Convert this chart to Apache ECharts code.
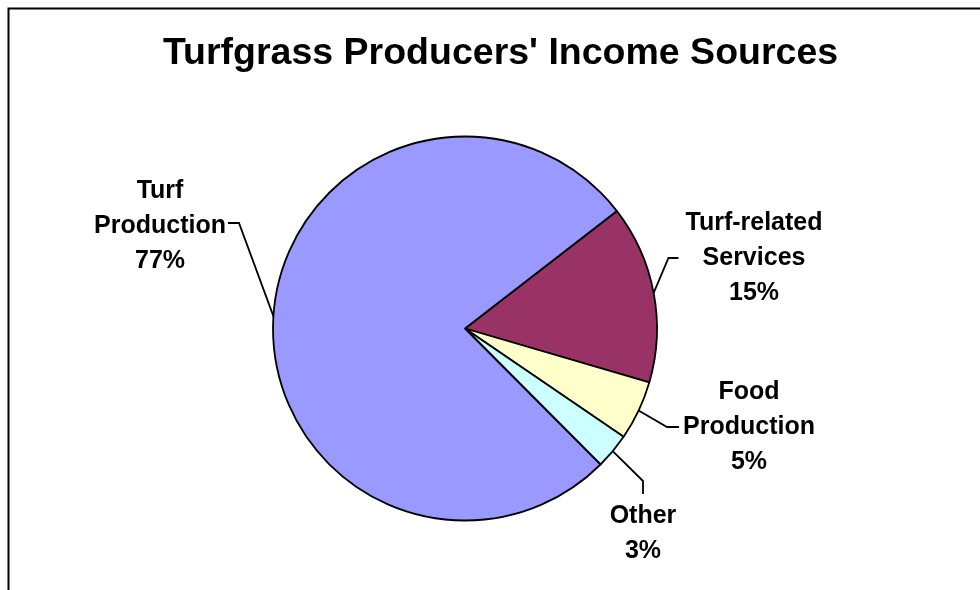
<!DOCTYPE html>
<html>
<head>
<meta charset="utf-8">
<title>Turfgrass Producers' Income Sources</title>
<script src="https://cdn.jsdelivr.net/npm/echarts@6/dist/echarts.min.js"></script>
<style>
  html, body { margin: 0; padding: 0; background: #ffffff; }
  #chart { width: 980px; height: 590px; }
</style>
</head>
<body>
<div id="chart"></div>
<script>
// Income sources, listed clockwise from the upper-right edge of the pie
const categories = ['Turf-related\nServices', 'Food\nProduction', 'Other', 'Turf\nProduction'];
const shares = [15, 5, 3, 77];
const sliceColors = ['#993366', '#FFFFCC', '#CCFFFF', '#9999FF'];

// Where each label sits and from which side its leader line leaves it
const labelSpots = [
  { cx: 754, cy: 258, side: 'left',  gap: 7, elbow: 10, dy: 0 },
  { cx: 749, cy: 427, side: 'left',  gap: 4, elbow: 12, dy: 0 },
  { cx: 643, cy: 534, side: 'top',   gap: 5, elbow: 13, dy: 0 },
  { cx: 160, cy: 226, side: 'right', gap: 2, elbow: 11, dy: -3 }
];

const chart = echarts.init(document.getElementById('chart'), null, { renderer: 'canvas' });

chart.setOption({
  backgroundColor: '#ffffff',
  animation: false,
  title: {
    text: "Turfgrass Producers' Income Sources",
    left: 158,
    top: 30,
    textStyle: {
      fontFamily: 'Liberation Sans, Arial, sans-serif',
      fontSize: 37.5,
      fontWeight: 'bold',
      color: '#000000'
    }
  },
  graphic: [{
    type: 'rect',
    left: 6, top: 6,
    shape: { x: 0, y: 0, width: 1200, height: 1200 },
    style: { fill: 'none', stroke: '#000000', lineWidth: 2 },
    silent: true
  }],
  series: [{
    type: 'pie',
    center: [465, 328.5],
    radius: [0, 192],
    startAngle: 37.7,
    clockwise: true,
    avoidLabelOverlap: false,
    percentPrecision: 0,
    emphasis: { disabled: true },
    itemStyle: { borderColor: '#000000', borderWidth: 1.8 },
    label: {
      show: true,
      position: 'outside',
      formatter: '{b}\n{d}%',
      fontFamily: 'Liberation Sans, Arial, sans-serif',
      fontSize: 25,
      fontWeight: 'bold',
      lineHeight: 35,
      color: '#000000',
      align: 'center'
    },
    labelLine: {
      show: true,
      length: 10,
      length2: 10,
      lineStyle: { color: '#000000', width: 1.8 }
    },
    labelLayout: function (params) {
      const spot = labelSpots[params.dataIndex];
      const w = params.labelRect.width;
      const h = params.labelRect.height;
      let end, knee;
      if (spot.side === 'right') {
        end = [spot.cx + w / 2 + spot.gap, spot.cy + spot.dy];
        knee = [end[0] + spot.elbow, end[1]];
      } else if (spot.side === 'left') {
        end = [spot.cx - w / 2 - spot.gap, spot.cy + spot.dy];
        knee = [end[0] - spot.elbow, end[1]];
      } else {
        end = [spot.cx, spot.cy - h / 2 - spot.gap];
        knee = [end[0], end[1] - spot.elbow];
      }
      const edge = params.labelLinePoints ? params.labelLinePoints[0] : knee;
      return {
        x: spot.cx,
        y: spot.cy,
        align: 'center',
        verticalAlign: 'middle',
        labelLinePoints: [edge, knee, end]
      };
    },
    data: categories.map(function (name, i) {
      return { name: name, value: shares[i], itemStyle: { color: sliceColors[i] } };
    })
  }]
});
</script>
</body>
</html>
